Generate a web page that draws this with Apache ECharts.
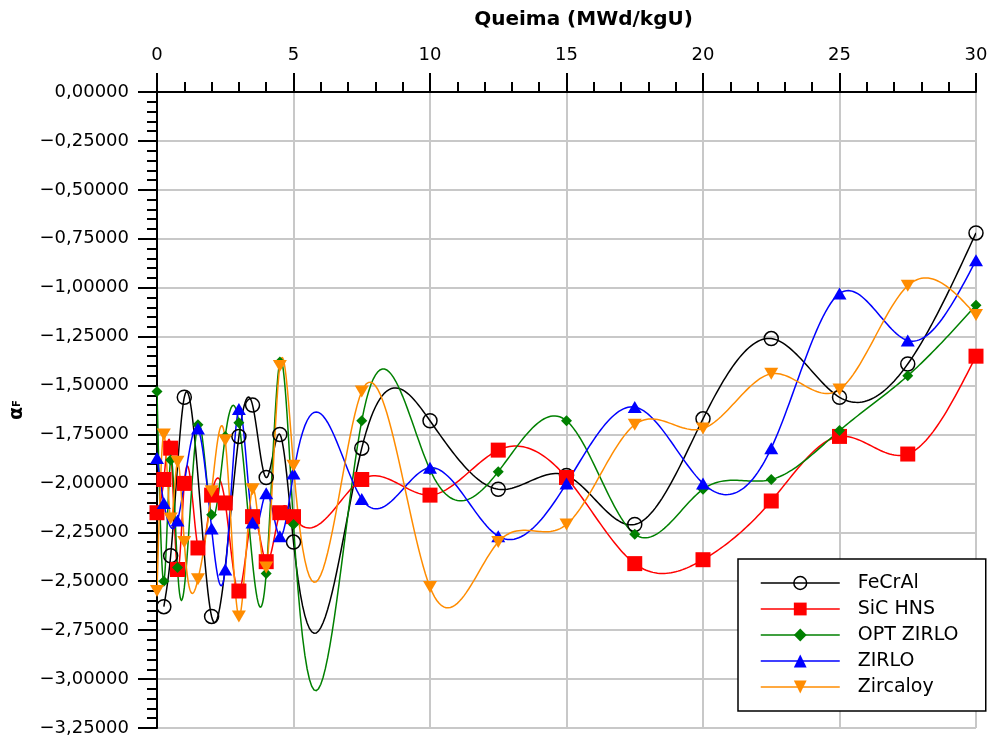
<!DOCTYPE html>
<html>
<head>
<meta charset="utf-8">
<script src="https://cdn.jsdelivr.net/npm/echarts@6/dist/echarts.min.js"></script>
<style>
  html, body { margin: 0; padding: 0; background: #ffffff; }
  #chart { width: 998px; height: 744px; }
</style>
</head>
<body>
<div id="chart"></div>
<script>
// Burnup steps (MWd/kgU)
const burnup = [0, 0.25, 0.5, 0.75, 1, 1.5, 2, 2.5, 3, 3.5, 4, 4.5, 5,
                7.5, 10, 12.5, 15, 17.5, 20, 22.5, 25, 27.5, 30];

// Fuel temperature coefficient per cladding (null = no value at that step)
const feCrAl   = [null, -2.63, -2.37, null, -1.56, null, -2.68, null, -1.76, -1.60, -1.97, -1.75, -2.30,
                  -1.82, -1.68, -2.03, -1.96, -2.21, -1.67, -1.26, -1.56, -1.39, -0.72];
const sicHns   = [-2.15, -1.98, -1.82, -2.44, -2.00, -2.33, -2.06, -2.10, -2.55, -2.17, -2.40, -2.15, -2.17,
                  -1.98, -2.06, -1.83, -1.97, -2.41, -2.39, -2.09, -1.76, -1.85, -1.35];
const optZirlo = [-1.53, -2.50, -1.88, -2.43, null, -1.70, -2.16, -1.76, -1.69, null, -2.46, -1.38, -2.21,
                  -1.68, -1.93, -1.94, -1.68, -2.26, -2.03, -1.98, -1.73, -1.45, -1.09];
const zirlo    = [-1.87, -2.10, null, -2.19, null, -1.72, -2.23, -2.44, -1.62, -2.20, -2.05, -2.27, -1.95,
                  -2.08, -1.92, -2.27, -2.00, -1.61, -2.00, -1.82, -1.03, -1.27, -0.86];
const zircaloy = [-2.55, -1.75, -2.18, -1.89, -2.30, -2.49, -2.04, -1.78, -2.68, -2.03, -2.43, -1.40, -1.91,
                  -1.53, -2.53, -2.30, -2.21, -1.70, -1.72, -1.44, -1.52, -0.99, -1.14];

const FONT = 'DejaVu Sans';
const INV_TRIANGLE = 'path://M0,0 L14,0 L7,12 Z';

const seriesDefs = [
  { name: 'FeCrAl',    values: feCrAl,   color: '#000000', symbol: 'circle',    size: 14, fill: 'rgba(0,0,0,0)', border: 1.5 },
  { name: 'SiC HNS',   values: sicHns,   color: '#ff0000', symbol: 'rect',      size: 15, fill: '#ff0000', border: 0 },
  { name: 'OPT ZIRLO', values: optZirlo, color: '#008000', symbol: 'diamond',   size: 11, fill: '#008000', border: 0 },
  { name: 'ZIRLO',     values: zirlo,    color: '#0000ff', symbol: 'triangle',  size: [14, 12], fill: '#0000ff', border: 0 },
  { name: 'Zircaloy',  values: zircaloy, color: '#ff8c00', symbol: INV_TRIANGLE, size: [14, 12], fill: '#ff8c00', border: 0 }
];

// Natural cubic spline through (xs, ys); returns an evaluator for interval i
function naturalSpline(xs, ys) {
  const n = xs.length;
  const h = [];
  for (let i = 0; i < n - 1; i++) h.push(xs[i + 1] - xs[i]);
  const M = new Array(n).fill(0);
  if (n > 2) {
    const m = n - 2;
    const a = [], b = [], c = [], d = [];
    for (let i = 1; i <= m; i++) {
      a.push(h[i - 1]);
      b.push(2 * (h[i - 1] + h[i]));
      c.push(h[i]);
      d.push(6 * ((ys[i + 1] - ys[i]) / h[i] - (ys[i] - ys[i - 1]) / h[i - 1]));
    }
    for (let i = 1; i < m; i++) {
      const w = a[i] / b[i - 1];
      b[i] -= w * c[i - 1];
      d[i] -= w * d[i - 1];
    }
    const sol = new Array(m);
    sol[m - 1] = d[m - 1] / b[m - 1];
    for (let i = m - 2; i >= 0; i--) sol[i] = (d[i] - c[i] * sol[i + 1]) / b[i];
    for (let i = 0; i < m; i++) M[i + 1] = sol[i];
  }
  return function (x, i) {
    const hi = h[i], x0 = xs[i], x1 = xs[i + 1];
    const A = x1 - x, B = x - x0;
    return M[i] * A * A * A / (6 * hi) + M[i + 1] * B * B * B / (6 * hi) +
           (ys[i] / hi - M[i] * hi / 6) * A + (ys[i + 1] / hi - M[i + 1] * hi / 6) * B;
  };
}

const series = [];
const legendData = [];

seriesDefs.forEach(function (def, k) {
  const pts = [];
  burnup.forEach(function (x, i) { if (def.values[i] !== null) pts.push([x, def.values[i]]); });
  const xs = pts.map(function (p) { return p[0]; });
  const ys = pts.map(function (p) { return p[1]; });
  const evalSpline = naturalSpline(xs, ys);

  // markers
  series.push({
    type: 'line',
    name: def.name,
    data: pts,
    z: 10 + k,
    symbol: def.symbol,
    symbolSize: def.size,
    showSymbol: true,
    lineStyle: { width: 0, opacity: 0 },
    itemStyle: { color: def.fill, borderColor: def.color, borderWidth: def.border, opacity: 1 },
    emphasis: { disabled: true },
    animation: false
  });

  // smooth spline curve through the same points
  series.push({
    type: 'custom',
    name: def.name,
    data: pts,
    z: 2 + k,
    silent: true,
    animation: false,
    encode: { x: 0, y: 1 },
    renderItem: function (params, api) {
      if (params.dataIndex !== 0) return null;
      const path = [];
      for (let i = 0; i < xs.length - 1; i++) {
        const steps = 30;
        for (let s = 0; s < steps; s++) {
          const x = xs[i] + (xs[i + 1] - xs[i]) * s / steps;
          path.push(api.coord([x, evalSpline(x, i)]));
        }
      }
      path.push(api.coord([xs[xs.length - 1], ys[ys.length - 1]]));
      const cs = params.coordSys;
      return {
        type: 'polyline',
        shape: { points: path },
        style: { stroke: def.color, lineWidth: 1.5, fill: null },
        clipPath: { type: 'rect', shape: { x: cs.x, y: cs.y, width: cs.width, height: cs.height } }
      };
    }
  });

  legendData.push({
    name: def.name,
    itemStyle: { color: def.fill, borderColor: def.color, borderWidth: def.border, opacity: 1 },
    lineStyle: { color: def.color, width: 1.5, opacity: 1, type: 'solid' }
  });
});

function fmtY(v) {
  const s = Math.abs(v).toFixed(5).replace('.', ',');
  return (v < 0 ? '\u2212' : '') + s;
}

const chart = echarts.init(document.getElementById('chart'), null, { renderer: 'canvas' });
chart.setOption({
  backgroundColor: '#ffffff',
  animation: false,
  textStyle: { fontFamily: FONT },
  grid: { left: 157, top: 92, width: 819, height: 636, containLabel: false },
  xAxis: {
    type: 'value',
    position: 'top',
    min: 0, max: 30, interval: 5,
    name: 'Queima (MWd/kgU)',
    nameLocation: 'middle',
    nameGap: 62,
    nameTextStyle: { fontFamily: FONT, fontSize: 20, fontWeight: 'bold', color: '#000', padding: [0, 0, 0, 34] },
    axisLine: { show: true, onZero: false, lineStyle: { color: '#000', width: 2 } },
    axisTick: { show: true, inside: false, length: 19, lineStyle: { color: '#000', width: 2 } },
    minorTick: { show: true, splitNumber: 5, length: 10, lineStyle: { color: '#000', width: 2 } },
    axisLabel: { fontFamily: FONT, fontSize: 18, color: '#000', margin: 28 },
    splitLine: { show: true, lineStyle: { color: '#c8c8c8', width: 2 } }
  },
  yAxis: {
    type: 'value',
    min: -3.25, max: 0, interval: 0.25,
    name: '{a|\u03b1}{s|F}',
    nameLocation: 'middle',
    nameGap: 130,
    nameRotate: 90,
    nameTextStyle: {
      rich: {
        a: { fontFamily: FONT, fontSize: 19, fontWeight: 'bold', color: '#000' },
        s: { fontFamily: FONT, fontSize: 10, fontWeight: 'bold', color: '#000' }
      }
    },
    axisLine: { show: true, onZero: false, lineStyle: { color: '#000', width: 2 } },
    axisTick: { show: true, inside: false, length: 19, lineStyle: { color: '#000', width: 2 } },
    minorTick: { show: true, splitNumber: 5, length: 10, lineStyle: { color: '#000', width: 2 } },
    axisLabel: { fontFamily: FONT, fontSize: 18, color: '#000', margin: 28, formatter: fmtY },
    splitLine: { show: true, lineStyle: { color: '#c8c8c8', width: 2 } }
  },
  legend: {
    orient: 'vertical',
    left: 738, top: 559,
    backgroundColor: '#ffffff',
    borderColor: '#000000',
    borderWidth: 1.5,
    borderRadius: 0,
    padding: [14, 23, 14, 22],
    itemWidth: 79,
    itemHeight: 16,
    itemGap: 6,
    selectedMode: false,
    textStyle: { fontFamily: FONT, fontSize: 19, color: '#000', lineHeight: 20, width: 105, padding: [0, 0, 0, 13] },
    data: legendData
  },
  series: series
});
</script>
</body>
</html>
